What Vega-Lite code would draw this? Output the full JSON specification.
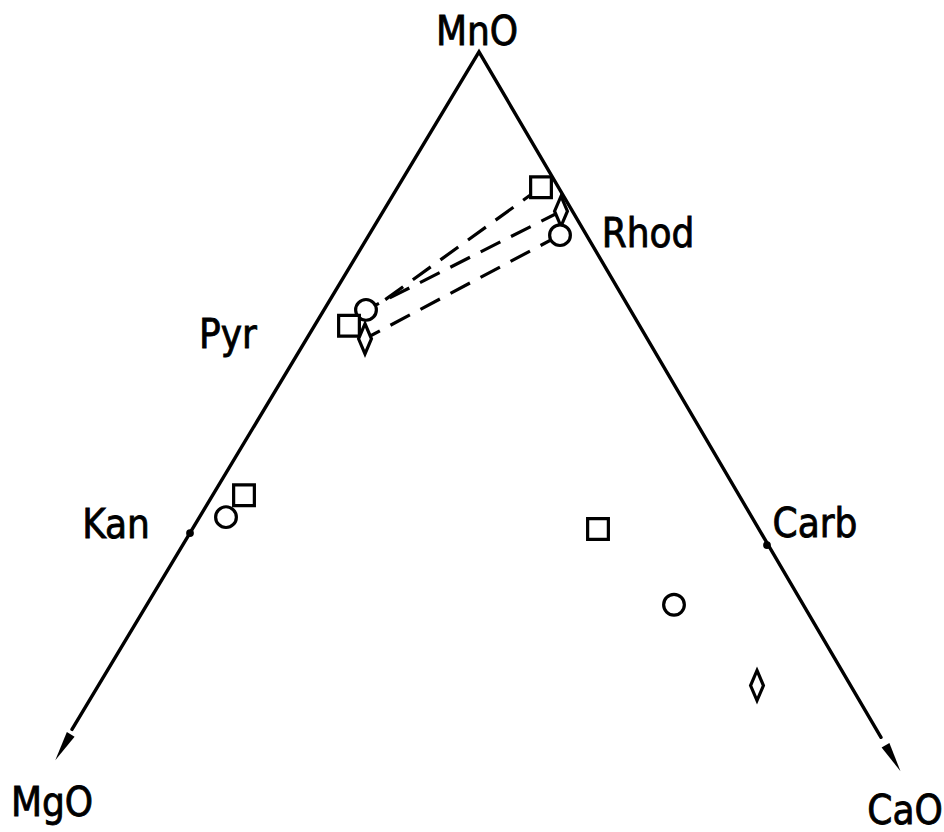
{
  "$schema": "https://vega.github.io/schema/vega-lite/v6.json",
  "width": 944,
  "height": 832,
  "autosize": {"type": "fit", "contains": "padding"},
  "padding": 0,
  "background": "white",
  "config": {"view": {"stroke": null}},
  "datasets": {
    "frame": [
      {"x": 72, "y": 732, "o": 1},
      {"x": 479, "y": 52, "o": 2},
      {"x": 881, "y": 740, "o": 3}
    ],
    "ties": [
      {"t": "a", "x": 541, "y": 188, "o": 1},
      {"t": "a", "x": 349, "y": 327, "o": 2},
      {"t": "b", "x": 561, "y": 212, "o": 1},
      {"t": "b", "x": 366, "y": 311, "o": 2},
      {"t": "c", "x": 560, "y": 236, "o": 1},
      {"t": "c", "x": 365, "y": 340, "o": 2}
    ],
    "arrows": [
      {"x": 63, "y": 750, "a": 31},
      {"x": 893, "y": 761, "a": -30}
    ],
    "dots": [
      {"x": 190, "y": 535},
      {"x": 767, "y": 547}
    ],
    "pts": [
      {"s": "square", "x": 541, "y": 188},
      {"s": "diamond", "x": 561, "y": 212},
      {"s": "circle", "x": 560, "y": 236},
      {"s": "circle", "x": 366, "y": 311},
      {"s": "square", "x": 349, "y": 327},
      {"s": "diamond", "x": 365, "y": 340},
      {"s": "square", "x": 244, "y": 497},
      {"s": "circle", "x": 226, "y": 519},
      {"s": "square", "x": 598, "y": 531},
      {"s": "circle", "x": 674, "y": 607},
      {"s": "diamond", "x": 757, "y": 688}
    ],
    "labels": [
      {"text": "MnO", "x": 477, "y": 45},
      {"text": "Rhod", "x": 648, "y": 248},
      {"text": "Pyr", "x": 228, "y": 349},
      {"text": "Kan", "x": 116, "y": 540},
      {"text": "Carb", "x": 815, "y": 539},
      {"text": "MgO", "x": 52, "y": 819},
      {"text": "CaO", "x": 905, "y": 827}
    ]
  },
  "encoding": {
    "x": {"field": "x", "type": "quantitative", "scale": {"domain": [0, 944], "nice": false, "zero": false}, "axis": null},
    "y": {"field": "y", "type": "quantitative", "scale": {"domain": [0, 832], "nice": false, "zero": false, "reverse": true}, "axis": null}
  },
  "layer": [
    {
      "data": {"name": "frame"},
      "mark": {"type": "line", "color": "black", "strokeWidth": 3.4, "strokeCap": "round", "strokeJoin": "miter"},
      "encoding": {"order": {"field": "o", "type": "quantitative"}}
    },
    {
      "data": {"name": "ties"},
      "mark": {"type": "line", "color": "black", "strokeWidth": 3.2, "strokeDash": [22, 12]},
      "encoding": {
        "detail": {"field": "t", "type": "nominal"},
        "order": {"field": "o", "type": "quantitative"}
      }
    },
    {
      "data": {"name": "arrows"},
      "mark": {"type": "point", "shape": "M-0.3,-1L0.3,-1L0,1Z", "filled": true, "color": "black", "size": 900, "opacity": 1},
      "encoding": {"angle": {"field": "a", "type": "quantitative", "scale": null}}
    },
    {
      "data": {"name": "dots"},
      "mark": {"type": "point", "shape": "circle", "filled": true, "color": "black", "size": 60, "opacity": 1}
    },
    {
      "data": {"name": "pts"},
      "mark": {"type": "point", "fill": "white", "stroke": "black", "strokeWidth": 3.2, "size": 430, "opacity": 1, "fillOpacity": 1},
      "encoding": {
        "shape": {
          "field": "s",
          "type": "nominal",
          "scale": {"domain": ["square", "circle", "diamond"], "range": ["square", "circle", "M0,-1.45L0.62,0L0,1.45L-0.62,0Z"]},
          "legend": null
        }
      }
    },
    {
      "data": {"name": "labels"},
      "mark": {"type": "text", "font": "DejaVu Sans Condensed, DejaVu Sans", "fontSize": 40, "color": "black", "stroke": "black", "strokeWidth": 0.8, "align": "center", "baseline": "alphabetic"},
      "encoding": {"text": {"field": "text", "type": "nominal"}}
    }
  ]
}
